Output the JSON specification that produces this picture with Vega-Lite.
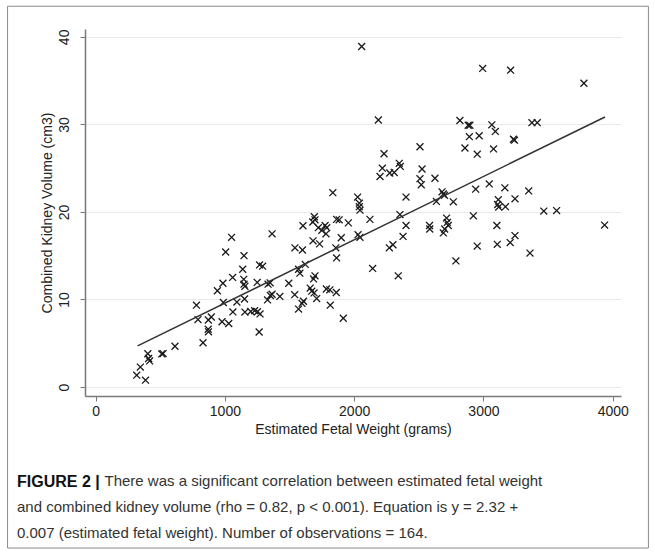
{
  "$schema": "https://vega.github.io/schema/vega-lite/v6.json",
  "width": 536,
  "height": 367,
  "autosize": {"type": "none"},
  "padding": {"left": 85, "top": 29, "right": 34, "bottom": 158},
  "background": "white",
  "config": {"view": {"stroke": null}, "font": "Liberation Sans"},
  "title": {
    "text": "FIGURE 2 |",
    "subtitle": [
      "\u200b\u00a0\u00a0\u00a0\u00a0\u00a0\u00a0\u00a0\u00a0\u00a0\u00a0\u00a0\u00a0\u00a0\u00a0\u00a0\u00a0\u00a0\u00a0\u00a0\u00a0\u00a0There was a significant correlation between estimated fetal weight",
      "and combined kidney volume (rho = 0.82, p < 0.001). Equation is y = 2.32 +",
      "0.007 (estimated fetal weight). Number of observations = 164."
    ],
    "orient": "bottom",
    "anchor": "start",
    "frame": "group",
    "dx": -68,
    "offset": -75,
    "font": "Liberation Sans",
    "fontSize": 16,
    "fontWeight": "bold",
    "color": "#111111",
    "subtitleFont": "Liberation Sans",
    "subtitleFontSize": 15,
    "subtitleColor": "#333333",
    "subtitleLineHeight": 26,
    "subtitlePadding": -15.2
  },
  "layer": [
    {
      "data": {"values": [{"item": "frame"}]},
      "mark": {"type": "rect", "fill": "white", "fillOpacity": 0, "stroke": "#8a8a8a", "strokeWidth": 1, "clip": false},
      "encoding": {
        "x": {"datum": -681, "type": "quantitative", "scale": {"domain": [-82, 4064], "nice": false, "zero": false}},
        "x2": {"datum": 4276},
        "y": {"datum": 43.5, "type": "quantitative", "scale": {"domain": [-1.03, 40.9], "nice": false, "zero": false}},
        "y2": {"datum": -18.4}
      }
    },
    {
      "data": {"values": [
        {"efw": 318, "ckv": 1.35}, {"efw": 346, "ckv": 2.27}, {"efw": 386, "ckv": 0.78}, {"efw": 404, "ckv": 3.8},
        {"efw": 410, "ckv": 3.25}, {"efw": 418, "ckv": 2.98}, {"efw": 512, "ckv": 3.78}, {"efw": 522, "ckv": 3.82},
        {"efw": 614, "ckv": 4.65}, {"efw": 780, "ckv": 9.35}, {"efw": 792, "ckv": 7.7}, {"efw": 831, "ckv": 5.05},
        {"efw": 872, "ckv": 7.65}, {"efw": 895, "ckv": 8.0}, {"efw": 871, "ckv": 6.6}, {"efw": 873, "ckv": 6.3},
        {"efw": 942, "ckv": 11.0}, {"efw": 985, "ckv": 11.85}, {"efw": 988, "ckv": 9.65}, {"efw": 978, "ckv": 7.45},
        {"efw": 1030, "ckv": 7.25}, {"efw": 1006, "ckv": 15.42}, {"efw": 1052, "ckv": 17.1}, {"efw": 1060, "ckv": 12.52},
        {"efw": 1062, "ckv": 8.58}, {"efw": 1093, "ckv": 9.7}, {"efw": 1148, "ckv": 15.0}, {"efw": 1138, "ckv": 13.45},
        {"efw": 1146, "ckv": 12.3}, {"efw": 1148, "ckv": 11.75}, {"efw": 1155, "ckv": 11.5}, {"efw": 1152, "ckv": 10.05},
        {"efw": 1155, "ckv": 8.56}, {"efw": 1200, "ckv": 8.62}, {"efw": 1230, "ckv": 8.72}, {"efw": 1252, "ckv": 8.6},
        {"efw": 1272, "ckv": 8.35}, {"efw": 1265, "ckv": 6.28}, {"efw": 1250, "ckv": 11.95}, {"efw": 1268, "ckv": 13.95},
        {"efw": 1292, "ckv": 13.8}, {"efw": 1334, "ckv": 11.75}, {"efw": 1350, "ckv": 11.9}, {"efw": 1365, "ckv": 17.5},
        {"efw": 1330, "ckv": 9.95}, {"efw": 1352, "ckv": 10.45}, {"efw": 1365, "ckv": 10.6}, {"efw": 1425, "ckv": 10.35},
        {"efw": 1494, "ckv": 11.85}, {"efw": 1540, "ckv": 10.55}, {"efw": 1542, "ckv": 15.9}, {"efw": 1600, "ckv": 15.65},
        {"efw": 1604, "ckv": 18.42}, {"efw": 1570, "ckv": 13.45}, {"efw": 1580, "ckv": 13.0}, {"efw": 1622, "ckv": 14.0},
        {"efw": 1570, "ckv": 8.9}, {"efw": 1597, "ckv": 9.55}, {"efw": 1608, "ckv": 9.8}, {"efw": 1660, "ckv": 11.3},
        {"efw": 1672, "ckv": 10.95}, {"efw": 1690, "ckv": 10.75}, {"efw": 1710, "ckv": 10.1}, {"efw": 1697, "ckv": 12.7},
        {"efw": 1686, "ckv": 12.35}, {"efw": 1682, "ckv": 16.7}, {"efw": 1733, "ckv": 16.35}, {"efw": 1785, "ckv": 11.2},
        {"efw": 1812, "ckv": 11.1}, {"efw": 1862, "ckv": 10.8}, {"efw": 1815, "ckv": 9.35}, {"efw": 1916, "ckv": 7.85},
        {"efw": 1858, "ckv": 15.9}, {"efw": 1864, "ckv": 14.75}, {"efw": 1900, "ckv": 17.05}, {"efw": 1692, "ckv": 19.45},
        {"efw": 1697, "ckv": 19.1}, {"efw": 1680, "ckv": 18.85}, {"efw": 1723, "ckv": 18.2}, {"efw": 1750, "ckv": 17.9},
        {"efw": 1775, "ckv": 18.45}, {"efw": 1788, "ckv": 18.2}, {"efw": 1782, "ckv": 17.5}, {"efw": 1864, "ckv": 19.15},
        {"efw": 1884, "ckv": 19.1}, {"efw": 1955, "ckv": 18.75}, {"efw": 1835, "ckv": 22.2}, {"efw": 2058, "ckv": 38.9},
        {"efw": 2027, "ckv": 21.7}, {"efw": 2040, "ckv": 21.0}, {"efw": 2040, "ckv": 20.6}, {"efw": 2045, "ckv": 20.2},
        {"efw": 2030, "ckv": 17.4}, {"efw": 2045, "ckv": 17.1}, {"efw": 2122, "ckv": 19.15}, {"efw": 2143, "ckv": 13.55},
        {"efw": 2187, "ckv": 30.5}, {"efw": 2231, "ckv": 26.65}, {"efw": 2218, "ckv": 25.0}, {"efw": 2200, "ckv": 24.05},
        {"efw": 2275, "ckv": 24.45}, {"efw": 2310, "ckv": 24.5}, {"efw": 2349, "ckv": 25.55}, {"efw": 2357, "ckv": 25.2},
        {"efw": 2354, "ckv": 19.7}, {"efw": 2401, "ckv": 21.7}, {"efw": 2401, "ckv": 18.45}, {"efw": 2378, "ckv": 17.2},
        {"efw": 2272, "ckv": 15.9}, {"efw": 2300, "ckv": 16.25}, {"efw": 2341, "ckv": 12.7}, {"efw": 2509, "ckv": 27.45},
        {"efw": 2525, "ckv": 24.9}, {"efw": 2509, "ckv": 23.8}, {"efw": 2519, "ckv": 23.1}, {"efw": 2625, "ckv": 23.85},
        {"efw": 2583, "ckv": 18.45}, {"efw": 2585, "ckv": 18.05}, {"efw": 2636, "ckv": 21.2}, {"efw": 2680, "ckv": 22.3},
        {"efw": 2690, "ckv": 22.05}, {"efw": 2698, "ckv": 21.9}, {"efw": 2767, "ckv": 21.15}, {"efw": 2715, "ckv": 19.3},
        {"efw": 2720, "ckv": 18.8}, {"efw": 2728, "ckv": 18.45}, {"efw": 2700, "ckv": 18.05}, {"efw": 2690, "ckv": 17.6},
        {"efw": 2787, "ckv": 14.4}, {"efw": 2818, "ckv": 30.45}, {"efw": 2882, "ckv": 29.9}, {"efw": 2895, "ckv": 29.9},
        {"efw": 2891, "ckv": 28.6}, {"efw": 2967, "ckv": 28.7}, {"efw": 2857, "ckv": 27.3}, {"efw": 2952, "ckv": 26.6},
        {"efw": 2940, "ckv": 22.6}, {"efw": 2922, "ckv": 19.55}, {"efw": 2952, "ckv": 16.1}, {"efw": 2994, "ckv": 36.4},
        {"efw": 3065, "ckv": 29.95}, {"efw": 3092, "ckv": 29.2}, {"efw": 3078, "ckv": 27.2}, {"efw": 3045, "ckv": 23.2},
        {"efw": 3166, "ckv": 22.75}, {"efw": 3210, "ckv": 36.2}, {"efw": 3232, "ckv": 28.3}, {"efw": 3240, "ckv": 28.2},
        {"efw": 3115, "ckv": 21.4}, {"efw": 3110, "ckv": 20.85}, {"efw": 3118, "ckv": 20.55}, {"efw": 3170, "ckv": 20.6},
        {"efw": 3244, "ckv": 21.5}, {"efw": 3104, "ckv": 18.45}, {"efw": 3107, "ckv": 16.3}, {"efw": 3207, "ckv": 16.5},
        {"efw": 3244, "ckv": 17.3}, {"efw": 3350, "ckv": 22.4}, {"efw": 3360, "ckv": 15.3}, {"efw": 3375, "ckv": 30.2},
        {"efw": 3416, "ckv": 30.2}, {"efw": 3467, "ckv": 20.1}, {"efw": 3566, "ckv": 20.15}, {"efw": 3777, "ckv": 34.7},
        {"efw": 3937, "ckv": 18.5}
      ]},
      "mark": {"type": "point", "shape": "M-1,-1L1,1M1,-1L-1,1", "size": 48, "filled": false, "stroke": "#1a1a1a", "strokeWidth": 1.3, "opacity": 1},
      "encoding": {
        "x": {
          "field": "efw", "type": "quantitative",
          "scale": {"domain": [-82, 4064], "nice": false, "zero": false},
          "axis": {
            "values": [0, 1000, 2000, 3000, 4000],
            "format": "d",
            "title": "Estimated Fetal Weight (grams)",
            "grid": false,
            "domainColor": "#7a7a7a", "domainWidth": 1.5,
            "tickColor": "#7a7a7a", "tickSize": 5, "tickWidth": 1,
            "labelFont": "Liberation Sans", "labelFontSize": 14, "labelColor": "#222222", "labelPadding": 3,
            "titleFont": "Liberation Sans", "titleFontSize": 14, "titleFontWeight": "normal", "titleColor": "#222222", "titlePadding": 4
          }
        },
        "y": {
          "field": "ckv", "type": "quantitative",
          "scale": {"domain": [-1.03, 40.9], "nice": false, "zero": false},
          "axis": {
            "values": [0, 10, 20, 30, 40],
            "format": "d",
            "title": "Combined Kidney Volume (cm3)",
            "grid": true, "gridColor": "#e6e9ee", "gridWidth": 1,
            "domainColor": "#7a7a7a", "domainWidth": 1.5,
            "tickColor": "#7a7a7a", "tickSize": 5, "tickWidth": 1,
            "labelAngle": 270, "labelAlign": "center", "labelBaseline": "bottom",
            "labelFont": "Liberation Sans", "labelFontSize": 14, "labelColor": "#222222", "labelPadding": 9,
            "titleFont": "Liberation Sans", "titleFontSize": 14, "titleFontWeight": "normal", "titleColor": "#222222", "titlePadding": 3
          }
        }
      }
    },
    {
      "data": {"values": [{"efw": 325, "fit": 4.7}, {"efw": 3940, "fit": 30.85}]},
      "mark": {"type": "line", "color": "#333333", "strokeWidth": 1.5},
      "encoding": {
        "x": {"field": "efw", "type": "quantitative"},
        "y": {"field": "fit", "type": "quantitative"}
      }
    }
  ]
}
